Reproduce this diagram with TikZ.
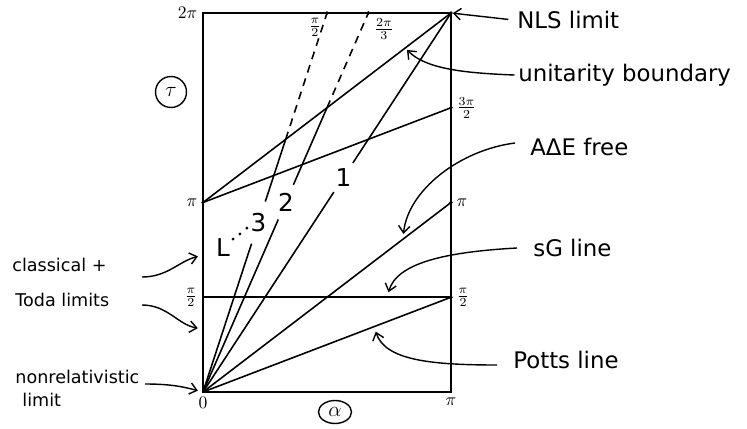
\documentclass[tikz,border=0pt]{standalone}
\usepackage{amsmath}
\usepackage{fontspec}
\setmainfont{DejaVu Sans}
\usetikzlibrary{arrows.meta, shapes.geometric}

\begin{document}
\begin{tikzpicture}[>={Straight Barb[length=4pt,width=6.5pt]},
  ln/.style={line width=0.9pt},
  dsh/.style={ln, dash pattern=on 4.5pt off 3.5pt},
  pin/.style={line width=0.8pt, ->, shorten >=3pt},
  tag/.style={font=\fontsize{13}{15}\selectfont, anchor=west, inner sep=2pt},
  note/.style={font=\fontsize{10}{12}\selectfont, anchor=west, inner sep=2pt},
  num/.style={font=\fontsize{14}{16}\selectfont, inner sep=2pt},
  tick/.style={inner sep=3pt}]
  \useasboundingbox (0,0) rectangle (14.94,8.56);
  % the square 0 < alpha < pi, 0 < tau < 2pi (units of pi)
  \begin{scope}[shift={(4.06,0.72)}, x=4.96cm, y=3.79cm]
    \coordinate (O) at (0,0);
    \coordinate (A) at (1,0);
    \coordinate (T) at (0,2);
    \coordinate (P) at (0,1);
    \coordinate (H) at (0,0.5);
    \coordinate (N) at (1,2);
    \coordinate (Q) at (1,1.5);
    \coordinate (R) at (1,1);
    \coordinate (S) at (1,0.5);
    \coordinate (D3) at (1/2,2);
    \coordinate (D2) at (2/3,2);
    \coordinate (U3) at (1/3,4/3);
    \coordinate (U2) at (1/2,3/2);
    % where the arrows point to
    \coordinate (ubt) at (0.815,1.815);
    \coordinate (aet) at (0.806,0.806);
    \coordinate (sgt) at (0.742,0.5);
    \coordinate (ptt) at (0.69,0.345);
    \coordinate (clt) at (0,0.723);
    \coordinate (tdt) at (0,0.332);
    \draw[ln] (O) rectangle (N);
    \draw[ln] (P) -- (N);   % unitarity boundary
    \draw[ln] (P) -- (Q);
    \draw[ln] (O) -- (R);   % A Delta E free
    \draw[ln] (H) -- (S);   % sG line
    \draw[ln] (O) -- (S);   % Potts line
    \foreach \p in {N,Q,R,S,P,D2,D3}
      \fill (\p) circle (1.1pt);
    % lines 1, 2, 3 with their numbers set into them
    \path (O) -- (N) node[num, pos=0.566, inner sep=3pt] (n1) {1};
    \path (O) -- (D2) node[num, pos=0.501] (n2) {2};
    \path (O) -- (D3) node[num, pos=0.447] (n3) {3};
    \draw[ln] (O) -- (n1) -- (N);
    \draw[ln, shorten >=2.7pt] (O) -- (n2);
    \draw[ln, shorten <=2.7pt] (n2) -- (U2);
    \draw[ln, shorten >=4.7pt] (O) -- (n3);
    \draw[ln, shorten <=4.7pt] (n3) -- (U3);
    \draw[dsh] (U2) -- (D2);
    \draw[dsh] (U3) -- (D3);
    \node[num, inner sep=1pt] (nL) at (0.081,0.76) {L};
    \foreach \a/\t in {0.121/0.807, 0.149/0.834, 0.177/0.865}
      \fill (\a,\t) circle (0.9pt);
    % values on the edges
    \node[tick, left] (t2pi) at (T) {$2\pi$};
    \node[tick, left] (tpi) at (P) {$\pi$};
    \node[tick, left] (th) at (H) {$\frac{\pi}{2}$};
    \node[tick, below] (t0) at (O) {$0$};
    \node[tick, below] (ta) at (A) {$\pi$};
    \node[tick, right] (rq) at (Q) {$\frac{3\pi}{2}$};
    \node[tick, right] (rr) at (R) {$\pi$};
    \node[tick, right] (rs) at (S) {$\frac{\pi}{2}$};
    \node[tick, below left] (d3) at (D3) {$\frac{\pi}{2}$};
    \node[tick, below right] (d2) at (D2) {$\frac{2\pi}{3}$};
  \end{scope}
  % axis names
  \node[draw, circle, line width=0.8pt, minimum size=0.62cm, inner sep=0pt, font=\large] (tau) at (3.42,6.72) {$\tau$};
  \node[draw, ellipse, line width=0.8pt, minimum width=0.66cm, minimum height=0.46cm, inner sep=0pt, font=\large] (alpha) at (6.70,0.32) {$\alpha$};
  % annotations
  \node[tag] (nls) at (10.27,8.16) {NLS limit};
  \node[tag] (ub) at (10.29,7.06) {unitarity boundary};
  \node[tag] (ae) at (10.53,5.62) {AΔE free};
  \node[tag] (sg) at (10.59,3.60) {sG line};
  \node[tag] (pt) at (10.19,1.36) {Potts line};
  \node[note] (cl) at (0.17,3.26) {classical +};
  \node[note] (td) at (0.23,2.56) {Toda limits};
  \node[note] (nr) at (0.23,1.02) {nonrelativistic};
  \node[note] (nl) at (0.37,0.56) {limit};
  \coordinate (aex) at (10.30,5.70);
  \coordinate (sgx) at (10.34,3.60);
  \coordinate (ptx) at (9.94,1.26);
  \coordinate (clx) at (2.84,3.02);
  \coordinate (tdx) at (2.84,2.46);
  \coordinate (nrx) at (2.90,0.88);
  \draw[pin, shorten <=3pt, shorten >=1pt] (nls.west) -- (N);
  \draw[pin, shorten >=1.5pt] (ub.west) .. controls (9.2,7.10) and (8.5,7.2) .. (ubt);
  \draw[pin] (aex) .. controls (9.2,5.56) and (8.16,4.76) .. (aet);
  \draw[pin] (sgx) .. controls (8.9,3.52) and (7.94,3.30) .. (sgt);
  \draw[pin] (ptx) .. controls (8.6,1.26) and (7.7,1.36) .. (ptt);
  \draw[pin] (clx) to[out=0, in=195] (clt);
  \draw[pin] (tdx) to[out=0, in=170] (tdt);
  \draw[pin] (nrx) to[out=0, in=165] (O);
\end{tikzpicture}
\end{document}
